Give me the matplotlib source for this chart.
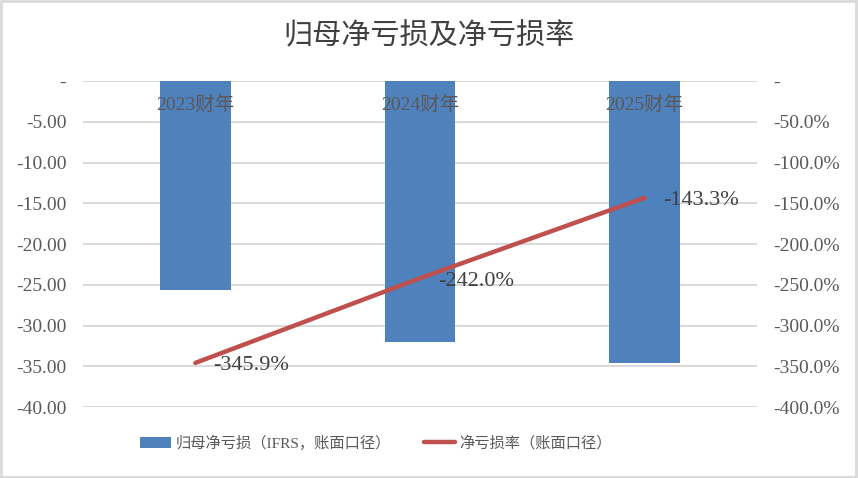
import matplotlib

matplotlib.use('Agg')
import matplotlib.pyplot as plt
from matplotlib.patches import Rectangle
from matplotlib.ticker import FuncFormatter

plt.rcParams['font.family'] = ['Liberation Serif', 'Noto Sans CJK SC', 'DejaVu Sans']

years = ['2023财年', '2024财年', '2025财年']
net_loss = [-25.6, -32.0, -34.55]
loss_rate = [-345.9, -242.0, -143.3]

bar_color = '#4F81BD'
line_color = '#C0504D'
text_color = '#595959'

fig = plt.figure(figsize=(8.58, 4.78), dpi=100)
ax = fig.add_axes([83 / 858, 1 - 407 / 478, 674 / 858, 326 / 478])
ax2 = ax.twinx()

x = list(range(len(years)))
bars = ax.bar(x, net_loss, width=0.315, color=bar_color, zorder=2)
ax.set_xlim(-0.5, 2.5)
ax.set_ylim(-40, 0)
ax.set_yticks(range(-40, 1, 5))
ax.yaxis.set_major_formatter(FuncFormatter(lambda v, p: '-' if v == 0 else f'{v:.2f}'))
ax.grid(axis='y', color='#D9D9D9', linewidth=1.4, zorder=0)
ax.set_axisbelow(True)
for s in ax.spines.values():
    s.set_visible(False)
ax.set_xticks([])
ax.tick_params(axis='y', length=0, labelsize=14, labelcolor=text_color, pad=12)

# category labels sit just under the zero line, over the bars
for xi, yr in zip(x, years):
    ax2.annotate(yr, (xi, 0), xytext=(0, -17), textcoords='offset points',
                 ha='center', va='center', fontsize=14, color=text_color, zorder=5)

line, = ax2.plot(x, loss_rate, color=line_color, linewidth=3.2, solid_capstyle='round',
                 zorder=3)
ax2.set_ylim(-400, 0)
ax2.set_yticks(range(-400, 1, 50))
ax2.yaxis.set_major_formatter(FuncFormatter(lambda v, p: '-' if v == 0 else f'{v:.1f}%'))
ax2.tick_params(axis='y', length=0, labelsize=14, labelcolor=text_color, pad=12)
for s in ax2.spines.values():
    s.set_visible(False)
for xi, v in zip(x, loss_rate):
    ax2.annotate(f'{v:.1f}%', (xi, v), xytext=(13, -2), textcoords='offset points',
                 ha='left', va='center', fontsize=16, color='#404040')

fig.text(0.5, 1 - 37 / 478, '归母净亏损及净亏损率', ha='center', va='center',
         fontsize=21, fontweight='medium', color='#404040')

fig.legend([bars, line], ['归母净亏损（IFRS，账面口径）', '净亏损率（账面口径）'],
           loc='center', bbox_to_anchor=(376 / 858, 1 - 443 / 478), ncol=2, frameon=False,
           fontsize=11, labelcolor=text_color, handlelength=2.0, columnspacing=2.2,
           handletextpad=0.3)

fig.patches.append(Rectangle((0.001, 0.002), 0.997, 0.996, transform=fig.transFigure,
                             fill=False, edgecolor='#D9D9D9', linewidth=2))

plt.savefig('out.png', dpi=100)
